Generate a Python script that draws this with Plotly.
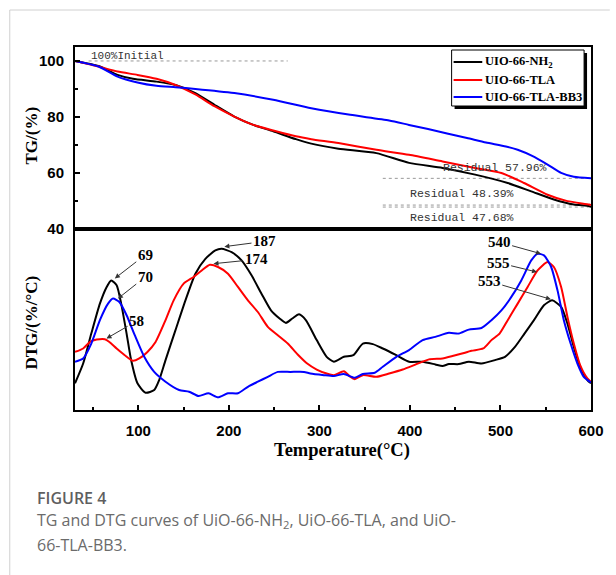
import plotly.graph_objects as go

# ---------------- data ----------------
series_names = ["UIO-66-NH<sub>2</sub>", "UIO-66-TLA", "UIO-66-TLA-BB3"]
series_colors = ["#000000", "#ff0000", "#0000ff"]

# TG curves (Temperature, TG %)
tg_nh2_T = [30, 56, 77, 94, 120, 141, 163, 184, 206, 227, 249, 274, 291, 321, 363, 399, 436, 472, 508, 534, 559, 581, 598, 600]
tg_nh2_v = [100, 98.2, 95, 93.6, 92.6, 91.4, 88.5, 84.3, 80.1, 77.1, 74.8, 72.0, 70.4, 68.6, 67.0, 63.5, 61.7, 59.3, 56.3, 53.3, 50.4, 48.6, 48.0, 47.68]

tg_tla_T = [30, 56, 77, 99, 120, 141, 163, 184, 206, 227, 249, 274, 291, 321, 363, 399, 436, 472, 501, 526, 552, 574, 598, 600]
tg_tla_v = [100, 98, 96.2, 95, 93.6, 91.4, 88, 83.8, 80.1, 77.1, 75.1, 73.0, 72.0, 70.6, 68.2, 66.4, 64.0, 61.7, 59.9, 56.3, 52.1, 49.8, 48.6, 48.39]

tg_bb3_T = [30, 56, 77, 99, 120, 141, 163, 206, 249, 291, 334, 377, 399, 420, 441, 463, 484, 506, 519, 535, 552, 567, 581, 600]
tg_bb3_v = [100, 98, 94.4, 92.3, 91.1, 90.6, 90.0, 88.5, 86.1, 83.1, 80.7, 78.7, 77.1, 75.6, 74.0, 72.4, 70.8, 69.4, 68.2, 66.0, 62.9, 59.9, 58.5, 57.96]

# DTG curves (Temperature, relative DTG, arbitrary units)
dtg_nh2_T = [30, 39, 48, 57.5, 65, 70, 76, 81, 87, 92, 99, 108, 117.5, 123, 130, 141, 152, 163, 174, 185, 192, 203,
             214, 225, 236, 246.5, 256, 263, 270, 277.5, 285, 297, 308, 316, 327, 337.5, 348, 359, 370, 385, 399, 414,
             428, 436, 443, 454, 465, 479, 494, 505, 516, 526.5, 537, 548, 557, 567, 574, 581, 588, 596, 600]
dtg_nh2_v = [14.7, 25.6, 42.1, 58.6, 67.8, 71.4, 68.7, 58.6, 42.1, 27.5, 14.7, 9.5, 11, 16.5, 27.5, 44, 60.4, 75.1, 83.3,
             87.9, 88.8, 87, 82.4, 74.2, 64.1, 54.9, 50.4, 48, 50.4, 52.7, 49.5, 38.5, 29.3, 26.6, 29.3, 30.2, 36.6, 36.3,
             33.9, 30.2, 26.6, 26.6, 25.1, 24.2, 25.3, 25.3, 26.6, 25.6, 27.5, 29.3, 34.8, 42.1, 49.5, 57.7, 60.4, 56.8,
             47.6, 34.8, 23.8, 16.5, 14.7]

dtg_tla_T = [30, 39, 46.5, 54, 63, 68, 76, 85, 94, 101, 110, 119, 130, 139, 150, 161, 170, 179, 188, 199, 210, 221, 232,
             243, 254, 265, 276, 286.5, 297, 308, 316, 327, 334, 339, 348, 363, 377, 392, 406.5, 421, 436, 447, 457.5,
             468, 481, 490, 499, 508, 519, 530, 541, 552, 559, 567, 574, 581, 588, 596, 600]
dtg_tla_v = [32, 33.9, 37.5, 38.8, 39, 37.5, 33.9, 30.2, 27.1, 28.4, 32, 37.5, 49.5, 60.4, 69.6, 73.3, 76.9, 80, 78.8,
             75.1, 67.8, 60.4, 54, 45.8, 41.2, 36.6, 30.6, 25.6, 22.3, 20.1, 19.2, 21.4, 18.3, 17, 19.2, 18.3, 20.1, 22.3,
             25.1, 27.9, 28.4, 29.7, 31.1, 32.6, 33.9, 38.5, 42.1, 49.5, 58.6, 67.8, 76.9, 81.5, 78.8, 67.8, 51.3, 36.6,
             24.7, 17.4, 15.6]

dtg_bb3_T = [30, 39, 48, 57.5, 66.5, 72, 79, 87, 96, 106.5, 117.5, 130, 145, 156, 166.5, 177.5, 188, 199, 210, 221, 232,
             243, 254, 268, 283, 290, 305, 316, 327, 339, 348, 361, 370, 385, 399, 414, 428, 443, 454, 465, 479, 490,
             501, 512, 523, 534, 541, 548, 556, 563, 570, 577.5, 585, 592, 600]
dtg_bb3_v = [26.6, 28.4, 36.6, 49.5, 58.6, 61.4, 59.5, 52.2, 41.2, 29.3, 21, 15.6, 11, 10.1, 7.7, 9.2, 7, 9.2, 9.2,
             12.8, 15.6, 18.3, 21, 21, 21, 20.1, 19.2, 18.7, 19.8, 17.8, 19.8, 20.5, 23.8, 29.3, 33, 38.5, 40.3, 42.5,
             42.1, 44.3, 45.2, 49.5, 54.9, 62.3, 71.4, 82.4, 86.1, 85.2, 78.8, 65.9, 49.5, 36.6, 25.6, 18.3, 15.2]

# Peak labels: text, arrow head (T, v), label position (T, v)
peak_labels = ["69", "70", "58", "187", "174", "540", "555", "553"]
peak_head_T = [74, 77.4, 64.8, 195, 183, 544.8, 540.4, 555.7]
peak_head_v = [72.5, 61.4, 39.4, 90, 80.6, 86.1, 76, 61]
peak_text_T = [107.6, 107.6, 98, 239.3, 230, 498.5, 497.4, 487.6]
peak_text_v = [85.5, 73.3, 49, 92.9, 83, 92.5, 81.2, 70.9]

# Residual reference lines (TG panel)
initial_level = 100
initial_T = [45, 265]
residual_levels = [57.96, 48.39, 47.68]
residual_T = [370, 600]
residual_texts = ["Residual 57.96%", "Residual 48.39%", "Residual 47.68%"]
residual_text_T = [493.8, 457.5, 457.5]
residual_text_v = [61.8, 52.5, 43.9]

x_ticks = [100, 200, 300, 400, 500, 600]
tg_ticks = [40, 60, 80, 100]

# ---------------- figure ----------------
W, H = 616, 575
ML, MR, MT, MB = 75, 19, 47, 165
PW, PH = W - ML - MR, H - MT - MB


def px(xp):
    return (xp - ML) / PW


def py(yp):
    return (H - MB - yp) / PH


fig = go.Figure()

tg_T = [tg_nh2_T, tg_tla_T, tg_bb3_T]
tg_v = [tg_nh2_v, tg_tla_v, tg_bb3_v]
dtg_T = [dtg_nh2_T, dtg_tla_T, dtg_bb3_T]
dtg_v = [dtg_nh2_v, dtg_tla_v, dtg_bb3_v]

# dotted guide lines
fig.add_trace(go.Scatter(x=initial_T, y=[initial_level] * 2, mode="lines", xaxis="x", yaxis="y",
                         line=dict(color="#999999", width=1, dash="dot"), showlegend=False, hoverinfo="skip"))
for lvl in residual_levels:
    fig.add_trace(go.Scatter(x=residual_T, y=[lvl] * 2, mode="lines", xaxis="x", yaxis="y",
                             line=dict(color="#999999", width=1, dash="dot"), showlegend=False, hoverinfo="skip"))

for i in range(3):
    fig.add_trace(go.Scatter(x=tg_T[i], y=tg_v[i], mode="lines", name=series_names[i], xaxis="x", yaxis="y",
                             line=dict(color=series_colors[i], width=2, shape="spline", smoothing=0.6),
                             showlegend=False))
for i in range(3):
    fig.add_trace(go.Scatter(x=dtg_T[i], y=dtg_v[i], mode="lines", name=series_names[i], xaxis="x2", yaxis="y2",
                             line=dict(color=series_colors[i], width=2, shape="spline", smoothing=0.6),
                             showlegend=False))

serif = "Liberation Serif"
sans = "Liberation Sans"
mono = "Liberation Mono"

annotations = []
for t, h_T, h_v, t_T, t_v in zip(peak_labels, peak_head_T, peak_head_v, peak_text_T, peak_text_v):
    annotations.append(dict(x=h_T, y=h_v, xref="x2", yref="y2", ax=t_T, ay=t_v, axref="x2", ayref="y2",
                            text=t, showarrow=True, arrowhead=2, arrowsize=1, arrowwidth=1, arrowcolor="#333333",
                            xanchor="center", yanchor="middle",
                            font=dict(family=serif, size=15, color="#000000", weight="bold")))

annotations.append(dict(x=88.5, y=101.9, xref="x", yref="y", text="100%Initial", showarrow=False,
                        xanchor="center", yanchor="middle",
                        font=dict(family=mono, size=11, color="#333333")))
for txt, tx, tv in zip(residual_texts, residual_text_T, residual_text_v):
    annotations.append(dict(x=tx, y=tv, xref="x", yref="y", text=txt, showarrow=False,
                            xanchor="center", yanchor="middle",
                            font=dict(family=mono, size=11.5, color="#333333")))

# axis titles
annotations.append(dict(x=px(30), y=py(136), xref="paper", yref="paper", text="TG/(%)", textangle=-90,
                        xanchor="center", yanchor="middle",
                        showarrow=False, font=dict(family=serif, size=17, color="#000000", weight="bold")))
annotations.append(dict(x=px(30), y=py(323), xref="paper", yref="paper", text="DTG/(%/°C)", textangle=-90,
                        xanchor="center", yanchor="middle",
                        showarrow=False, font=dict(family=serif, size=17, color="#000000", weight="bold")))
annotations.append(dict(x=px(345), y=py(451), xref="paper", yref="paper", text="Temperature(°C)",
                        xanchor="center", yanchor="middle",
                        showarrow=False, font=dict(family=serif, size=18.5, color="#000000", weight="bold")))

# caption
annotations.append(dict(x=px(35), y=py(498), xref="paper", yref="paper", xanchor="left", yanchor="middle",
                        text="FIGURE 4", showarrow=False,
                        font=dict(family="Open Sans", size=16, color="#5f5f5f", weight=600)))
annotations.append(dict(x=px(35), y=py(520), xref="paper", yref="paper", xanchor="left", yanchor="middle",
                        text="TG and DTG curves of UiO-66-NH<sub>2</sub>, UiO-66-TLA, and UiO-", showarrow=False,
                        font=dict(family="Open Sans", size=16, color="#6b6b6b")))
annotations.append(dict(x=px(35), y=py(545), xref="paper", yref="paper", xanchor="left", yanchor="middle",
                        text="66-TLA-BB3.", showarrow=False,
                        font=dict(family="Open Sans", size=16, color="#6b6b6b")))

shapes = [
    # page frame lines
    dict(type="line", xref="paper", yref="paper", x0=px(9), x1=px(9), y0=py(10), y1=py(H),
         line=dict(color="#d0d0d0", width=1)),
    dict(type="line", xref="paper", yref="paper", x0=px(9), x1=px(W), y0=py(10), y1=py(10),
         line=dict(color="#d0d0d0", width=1)),
    # legend shadow + box
    dict(type="rect", xref="paper", yref="paper", x0=px(459), x1=px(593), y0=py(109), y1=py(53),
         fillcolor="#000000", line=dict(width=0), layer="above"),
    dict(type="rect", xref="paper", yref="paper", x0=px(456), x1=px(590), y0=py(106), y1=py(50),
         fillcolor="#ffffff", line=dict(color="#000000", width=1), layer="above"),
]

# legend entries
legend_y = [62, 80, 97]
for i in range(3):
    shapes.append(dict(type="line", xref="paper", yref="paper", x0=px(458), x1=px(487),
                       y0=py(legend_y[i]), y1=py(legend_y[i]),
                       line=dict(color=series_colors[i], width=2), layer="above"))
    annotations.append(dict(x=px(488), y=py(legend_y[i]), xref="paper", yref="paper", xanchor="left",
                            yanchor="middle", text=series_names[i], showarrow=False,
                            font=dict(family=serif, size=12.5, color="#000000", weight="bold")))

axis_common = dict(showline=True, linecolor="#000000", linewidth=2, mirror=True, showgrid=False, zeroline=False)

fig.update_layout(
    width=W, height=H,
    margin=dict(l=ML, r=MR, t=MT, b=MB),
    paper_bgcolor="#ffffff", plot_bgcolor="#ffffff",
    showlegend=False,
    xaxis=dict(domain=[0, 1], range=[30, 600], anchor="y", matches="x2", showticklabels=False, ticks="",
               **axis_common),
    yaxis=dict(domain=[0.5, 1], range=[40, 105], anchor="x", tickvals=tg_ticks, ticks="inside", ticklen=5,
               tickwidth=1.5, tickcolor="#000000", ticklabelstandoff=6,
               minor=dict(dtick=10, tick0=40, ticks="inside", ticklen=3, tickwidth=1.5, tickcolor="#000000"),
               tickfont=dict(family=sans, size=15, color="#000000", weight="bold"), **axis_common),
    xaxis2=dict(domain=[0, 1], range=[30, 600], anchor="y2", tickvals=x_ticks, ticks="inside", ticklen=5,
                tickwidth=1.5, tickcolor="#000000", ticklabelstandoff=6,
                minor=dict(dtick=50, tick0=0, ticks="inside", ticklen=3, tickwidth=1.5, tickcolor="#000000"),
                tickfont=dict(family=sans, size=15, color="#000000", weight="bold"), **axis_common),
    yaxis2=dict(domain=[0, 0.5], range=[0, 100], anchor="x2", showticklabels=False, ticks="", **axis_common),
    annotations=annotations,
    shapes=shapes,
)

fig.write_html("out.html", config={"displayModeBar": False},
               post_script="document.body.style.margin='0';")
